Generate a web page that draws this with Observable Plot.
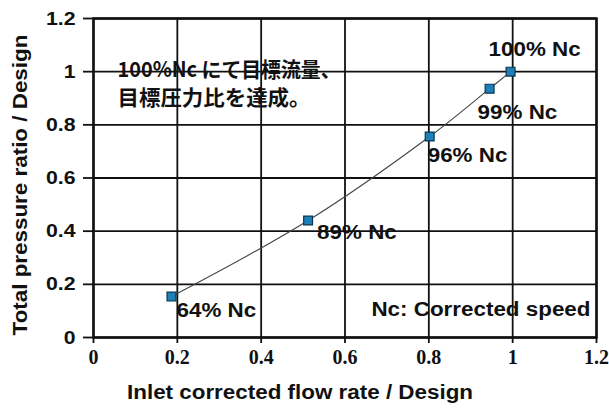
<!DOCTYPE html>
<html><head><meta charset="utf-8">
<script src="https://cdn.jsdelivr.net/npm/d3@7"></script>
<script src="https://cdn.jsdelivr.net/npm/@observablehq/plot@0.6"></script>
<style>body{margin:0;background:#fff}</style>
</head><body><div id="chart"></div>
<script>
// ---- data ----
const speeds = ["64% Nc", "89% Nc", "96% Nc", "99% Nc", "100% Nc"];
const flow = [0.186, 0.512, 0.802, 0.945, 0.995];
const pressure = [0.154, 0.44, 0.756, 0.936, 1.0];
const xTicks = [0, 0.2, 0.4, 0.6, 0.8, 1, 1.2];
const yTicks = [0, 0.2, 0.4, 0.6, 0.8, 1, 1.2];
const xTitle = "Inlet corrected flow rate / Design";
const yTitle = "Total pressure ratio / Design";
const noteLines = ["100%Nc にて目標流量、", "目標圧力比を達成。"];
const legendNote = "Nc: Corrected speed";

// ---- rendering ----
const pts = speeds.map((s, i) => ({speed: s, x: flow[i], y: pressure[i]}));
const labelOffsets = [[5, 14], [9, 12], [-2, 19], [-12, 24], [-22, -22]];
const sans = "'Liberation Sans', Arial, sans-serif";
const serif = "'Liberation Serif', 'Times New Roman', 'DejaVu Serif', serif";
const cjk = "'Noto Sans CJK JP', sans-serif";
const fmt = d => String(+d.toFixed(1));

const chart = Plot.plot({
  width: 609, height: 413,
  marginLeft: 93, marginRight: 13, marginTop: 18, marginBottom: 76,
  style: {fontFamily: sans, background: "#fff", color: "#111"},
  x: {domain: [0, 1.2]},
  y: {domain: [0, 1.2]},
  marks: [
    Plot.gridX(xTicks, {stroke: "#111", strokeOpacity: 1, strokeWidth: 1.8}),
    Plot.gridY(yTicks, {stroke: "#111", strokeOpacity: 1, strokeWidth: 1.8}),
    Plot.frame({stroke: "#111", strokeWidth: 2.5}),
    Plot.axisY({ticks: yTicks, tickFormat: fmt, tickSize: 10, tickPadding: 8, label: null,
      fontSize: 19, fontWeight: "bold", stroke: "#111", strokeWidth: 1.8}),
    Plot.axisX({ticks: xTicks, tickFormat: () => "", tickSize: 6, label: null,
      stroke: "#111", strokeWidth: 1.8}),
    Plot.text(xTicks, {x: d => d, frameAnchor: "bottom", dy: 26, text: fmt,
      fontFamily: serif, fontWeight: "bold", fontSize: 20, fill: "#111"}),
    Plot.text([xTitle], {frameAnchor: "bottom", dx: -45, dy: 61, text: d => d, textAnchor: "middle",
      fontSize: 20, fontWeight: "bold", fill: "#111"}),
    Plot.text([yTitle], {frameAnchor: "left", dx: -73, dy: 7, rotate: -90, text: d => d, textAnchor: "middle",
      fontSize: 20, fontWeight: "bold", fill: "#111"}),
    Plot.text([noteLines[0]], {frameAnchor: "top-left", dx: 24, dy: 44, text: d => d, textAnchor: "start",
      fontSize: 21, fontWeight: 600, fontFamily: cjk, fill: "#111"}),
    Plot.text([noteLines[1]], {frameAnchor: "top-left", dx: 24, dy: 72, text: d => d, textAnchor: "start",
      fontSize: 21, fontWeight: 600, fontFamily: cjk, fill: "#111"}),
    Plot.text([legendNote], {frameAnchor: "bottom-right", dx: -6, dy: -22, text: d => d, textAnchor: "end",
      fontSize: 20, fontWeight: "bold", fill: "#111"}),
    Plot.line(pts, {x: "x", y: "y", curve: "catmull-rom", stroke: "#444", strokeWidth: 1.1}),
    Plot.dot(pts, {x: "x", y: "y", symbol: "square", r: 5, fill: "#1f80b8", stroke: "#0b3550", strokeWidth: 1.2}),
    ...pts.map((p, i) => Plot.text([p], {x: "x", y: "y", text: "speed", textAnchor: "start",
      dx: labelOffsets[i][0], dy: labelOffsets[i][1], fontSize: 20, fontWeight: "bold", fill: "#111"}))
  ]
});
document.getElementById("chart").append(chart);
chart.querySelectorAll("text").forEach(t => {
  const ff = getComputedStyle(t).fontFamily;
  if (/Liberation Serif/i.test(ff) || !t.textContent) return;
  const len = t.getComputedTextLength();
  let target = len * 1.12;
  if (/CJK/.test(ff)) target = t.textContent === noteLines[0] ? 223 : 193;
  t.setAttribute("textLength", target.toFixed(1));
  t.setAttribute("lengthAdjust", "spacingAndGlyphs");
});
</script>
</body></html>
